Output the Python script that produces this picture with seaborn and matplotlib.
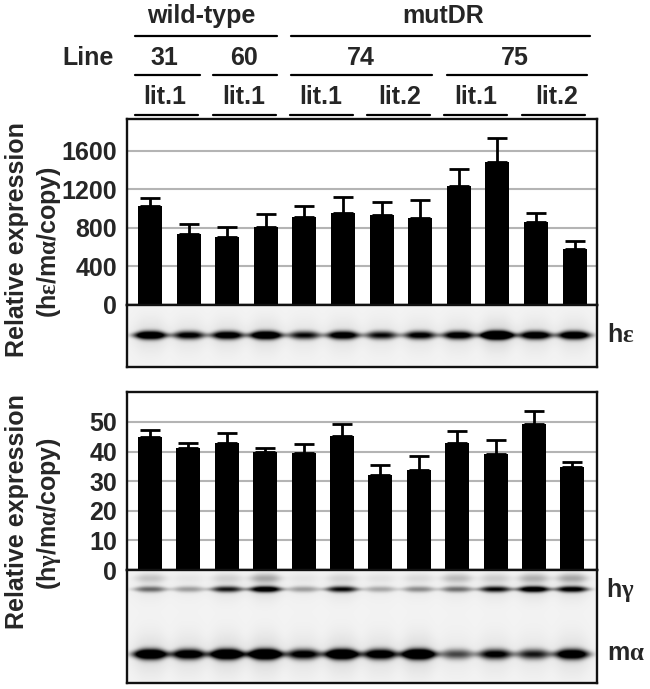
import numpy as np
import pandas as pd
import seaborn as sns
import matplotlib
matplotlib.use('Agg')
import matplotlib.pyplot as plt
from matplotlib.lines import Line2D

lanes = list(range(12))

eps_vals = [1024, 738, 707, 807, 914, 955, 934, 903, 1234, 1483, 862, 583]
eps_tops = [1110, 834, 807, 938, 1024, 1114, 1065, 1090, 1407, 1731, 952, 659]
eps_ticks = [0, 400, 800, 1200, 1600]

gam_vals = [44.9, 41.2, 42.8, 40.0, 39.4, 45.4, 32.1, 33.6, 42.8, 39.1, 49.4, 34.7]
gam_tops = [47.4, 43.0, 46.2, 41.2, 42.6, 49.3, 35.6, 38.4, 47.1, 43.8, 53.7, 36.4]
gam_ticks = [0, 10, 20, 30, 40, 50]

# band strengths per lane, read by eye from the blots
eps_band = [1.1, .8, .95, 1.15, .7, .95, .7, .8, .9, 1.6, 1.0, 1.05]
gam_band = [.4, .25, .65, .9, .25, .7, .22, .3, .38, .7, .9, .8]
gam_smear = [.12, .03, .08, .2, .03, .07, .04, .06, .15, .09, .17, .2]
ma_band = [1.2, 1.0, 1.3, 1.4, .85, 1.3, 1.0, 1.35, .5, .8, .65, 1.05]

W, H = 650, 689


def rect(x0, y0, x1, y1):
    return [x0 / W, 1 - y1 / H, (x1 - x0) / W, (y1 - y0) / H]


def band(xx, yy, lane, row, strength, half_w, half_h):
    # blot band, thins out toward the lane edges
    sx = np.exp(-np.abs((xx - lane) / half_w) ** 3)
    sy = np.exp(-((yy - row) / (half_h * (0.55 + 0.45 * sx))) ** 2)
    return strength * sx * sy


def draw_gel(ax, xlim, y_top, y_bot, rows):
    xs = np.linspace(xlim[0], xlim[1], 470)
    ys = np.arange(y_top, y_bot, 0.5)
    xx, yy = np.meshgrid(xs, ys)
    dark = np.full(xx.shape, 0.05)
    for row, strengths, half_w, half_h in rows:
        for lane, s in zip(lanes, strengths):
            dark += band(xx, yy, lane, row, s * 1.3, half_w, half_h)
            dark += band(xx, yy, lane, row, s * 0.07, half_w * 1.1, half_h * 4)
    img = 1 - np.clip(dark, 0, 1)
    ax.imshow(img, cmap='gray', vmin=0, vmax=1, aspect='auto', interpolation='bilinear',
              extent=(xlim[0], xlim[1], y_bot, y_top))
    ax.set_xticks([])
    ax.set_yticks([])


def draw_bars(ax, vals, tops, ticks, xlim, ylim):
    df = pd.DataFrame({'lane': lanes, 'value': vals})
    ups = np.array(tops) - np.array(vals)
    ax.errorbar(lanes, vals, yerr=[np.zeros(12), ups], fmt='none', ecolor='black',
                elinewidth=2, capsize=7.2, capthick=2, zorder=2)
    sns.barplot(data=df, x='lane', y='value', color='black', saturation=1, width=0.62,
                errorbar=None, ax=ax, zorder=3, linewidth=0, native_scale=True)
    ax.set_xlim(xlim)
    ax.set_ylim(ylim)
    ax.set_yticks(ticks)
    ax.set_xticks([])
    ax.set_xlabel('')
    ax.set_ylabel('')
    ax.grid(axis='y', color='#b4b4b4', lw=1.5)
    ax.set_axisbelow(True)
    ax.tick_params(axis='y', length=0, pad=7, labelsize=18)


sns.set_style('white')
plt.rcParams['font.family'] = ['Liberation Sans', 'DejaVu Sans']
plt.rcParams['font.weight'] = 'bold'
plt.rcParams['axes.linewidth'] = 1.7
plt.rcParams['axes.edgecolor'] = '#111111'
plt.rcParams['mathtext.fontset'] = 'custom'
plt.rcParams['mathtext.bf'] = 'Liberation Sans:bold'
plt.rcParams['mathtext.rm'] = 'Liberation Serif'

fig = plt.figure(figsize=(6.5, 6.89), dpi=100)

# top panel
xlim_top = ((127 - 150) / 38.6, (597 - 150) / 38.6)
ax1 = fig.add_axes(rect(127, 119, 597, 305))
draw_bars(ax1, eps_vals, eps_tops, eps_ticks, xlim_top, (0, 1927))
gel1 = fig.add_axes(rect(127, 305, 597, 367))
draw_gel(gel1, xlim_top, 305, 367, [(335, eps_band, 0.42, 4.0)])

# bottom panel
xlim_bot = ((127 - 150) / 38.4, (597 - 150) / 38.4)
ax2 = fig.add_axes(rect(127, 392, 597, 570))
draw_bars(ax2, gam_vals, gam_tops, gam_ticks, xlim_bot, (0, 60.1))
gel2 = fig.add_axes(rect(127, 570, 597, 683))
draw_gel(gel2, xlim_bot, 570, 683, [(578, gam_smear, 0.4, 4.5),
                                    (589, gam_band, 0.42, 3.0),
                                    (654, ma_band, 0.44, 5.0)])


def label(x, y, s, size=18, **kw):
    fig.text(x / W, 1 - y / H, s, fontsize=size, fontweight='bold', ha='center', va='center', **kw)


def rule(x0, x1, y):
    fig.add_artist(Line2D([x0 / W, x1 / W], [1 - y / H, 1 - y / H], color='black', lw=1.6))


label(17, 240, 'Relative expression', rotation=90)
label(49, 242, r'$\mathbf{(h}\mathrm{ε}\mathbf{/m}\mathrm{α}\mathbf{/copy)}$', rotation=90)
label(17, 512, 'Relative expression', rotation=90)
label(49, 514, r'$\mathbf{(h}\mathrm{γ}\mathbf{/m}\mathrm{α}\mathbf{/copy)}$', rotation=90)

label(621, 335, r'$\mathbf{h}\mathrm{ε}$')
label(620, 590, r'$\mathbf{h}\mathrm{γ}$')
label(626, 653, r'$\mathbf{m}\mathrm{α}$')

label(201, 16, 'wild-type')
label(443, 16, 'mutDR')
label(88, 58, 'Line')
for x, s in zip([164, 244, 361, 515], ['31', '60', '74', '75']):
    label(x, 58, s)
for x, s in zip([165, 244, 321, 400, 476, 557], ['lit.1', 'lit.1', 'lit.1', 'lit.2', 'lit.1', 'lit.2']):
    label(x, 97, s)

for x0, x1 in [(135, 277), (291, 590)]:
    rule(x0, x1, 36)
for x0, x1 in [(135, 200), (213, 277), (291, 432), (447, 587)]:
    rule(x0, x1, 75)
for x0, x1 in [(135, 198), (213, 276), (290, 353), (367, 430), (444, 507), (522, 585)]:
    rule(x0, x1, 115)

fig.savefig('out.png', dpi=100)
